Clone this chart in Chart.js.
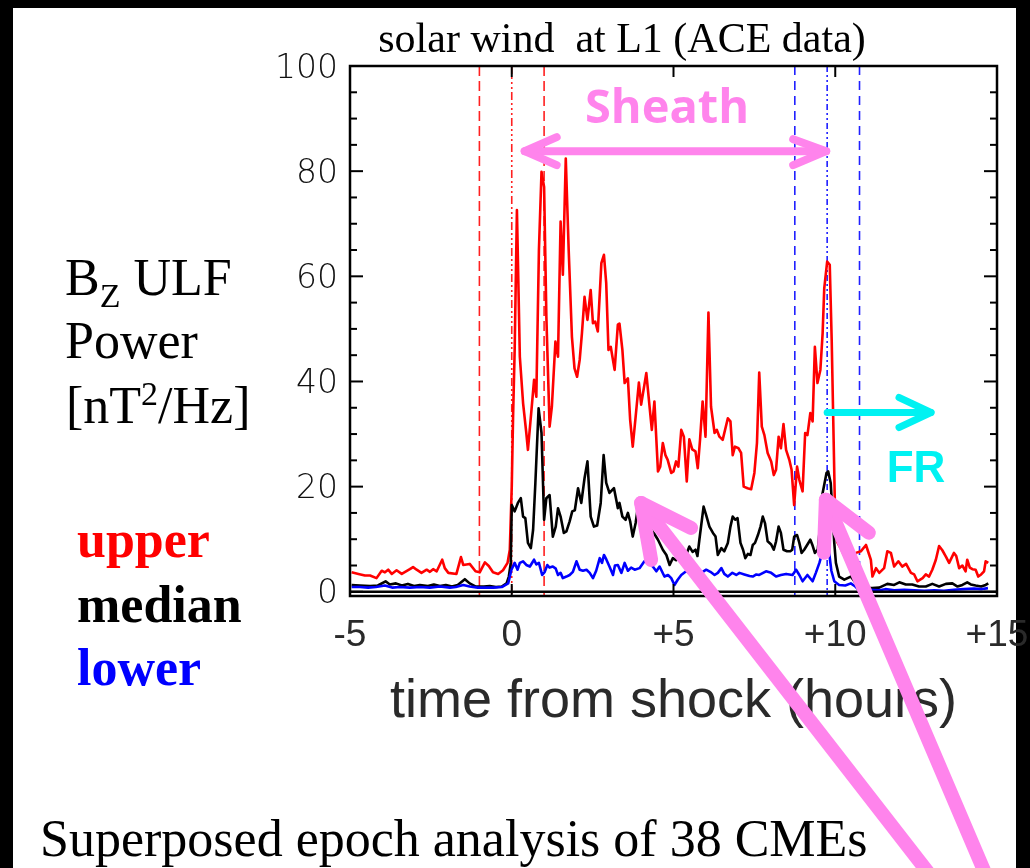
<!DOCTYPE html>
<html><head><meta charset="utf-8">
<script src="https://cdn.jsdelivr.net/npm/chart.js@4.4.1/dist/chart.umd.min.js"></script>
<style>html,body{margin:0;padding:0;background:#fff;overflow:hidden}#wrap{width:1030px;height:868px;position:relative}</style>
</head><body><div id="wrap"><canvas id="c" width="1030" height="868"></canvas></div>
<script>
// time from shock (hours) and Bz ULF power [nT^2/Hz]
const upperT = [-4.95,-4.74,-4.54,-4.38,-4.18,-4.02,-3.92,-3.82,-3.71,-3.56,
-3.40,-3.15,-3.05,-2.94,-2.79,-2.63,-2.53,-2.43,-2.32,-2.15,
-2.07,-1.96,-1.71,-1.57,-1.50,-1.30,-1.12,-0.99,-0.83,-0.71,
-0.58,-0.42,-0.27,-0.13,-0.06,0.00,0.04,0.09,0.16,0.25,
0.35,0.45,0.50,0.61,0.69,0.76,0.84,0.92,1.00,1.07,
1.17,1.24,1.35,1.43,1.51,1.58,1.67,1.76,1.86,1.94,
2.02,2.10,2.17,2.25,2.34,2.44,2.51,2.58,2.66,2.77,
2.85,2.92,2.99,3.06,3.18,3.28,3.33,3.42,3.49,3.59,
3.66,3.74,3.83,3.93,4.00,4.16,4.26,4.33,4.41,4.52,
4.59,4.67,4.75,4.82,4.93,5.00,5.08,5.15,5.24,5.32,
5.41,5.49,5.58,5.68,5.75,5.82,5.90,5.99,6.08,6.16,
6.27,6.34,6.42,6.52,6.68,6.76,6.83,6.90,7.01,7.09,
7.17,7.29,7.40,7.50,7.58,7.65,7.73,7.81,7.91,8.02,
8.10,8.17,8.25,8.32,8.40,8.48,8.58,8.65,8.73,8.82,
8.89,8.99,9.07,9.14,9.23,9.30,9.37,9.45,9.54,9.61,
9.66,9.75,9.83,9.89,9.95,10.00,10.06,10.19,10.31,10.43,
10.64,10.79,10.95,11.10,11.15,11.26,11.36,11.51,11.61,11.72,
11.82,11.95,12.07,12.19,12.34,12.44,12.54,12.70,12.80,12.90,
13.00,13.11,13.21,13.31,13.42,13.52,13.67,13.74,13.83,13.93,
14.03,14.08,14.16,14.24,14.34,14.42,14.51,14.60,14.65,14.73];
const upperV = [3.7,3.4,3.1,3.1,2.6,4.0,3.7,4.2,3.4,4.1,
3.4,4.3,4.7,4.2,3.6,4.2,3.8,4.3,3.9,6.1,
4.5,3.6,3.4,6.6,5.1,5.3,3.9,3.7,5.6,4.9,
3.7,3.4,4.1,5.5,8.0,20.0,33.0,46.0,72.6,44.7,
35.9,30.2,27.0,34.6,40.3,37.1,65.0,79.9,77.0,52.3,
31.4,35.2,47.6,44.7,70.4,60.3,82.4,65.0,48.5,42.5,
40.9,44.1,49.2,56.1,51.7,57.4,51.1,51.4,49.5,62.5,
64.1,58.7,46.0,46.6,42.2,50.8,51.0,46.0,39.7,40.6,
32.7,27.6,33.3,39.8,35.6,41.6,35.2,30.8,36.2,22.9,
23.8,28.3,26.0,25.1,22.6,22.9,24.8,23.8,30.8,29.5,
21.0,29.0,27.1,26.7,23.5,28.9,36.2,29.5,53.1,35.2,
30.2,30.8,29.5,28.9,33.0,32.4,26.0,27.6,27.3,26.4,
20.0,19.7,19.5,22.6,28.3,41.7,31.4,29.8,26.4,24.8,
22.2,23.2,29.5,27.3,31.9,27.0,25.1,23.2,16.5,23.8,
21.3,19.1,30.2,29.8,34.0,32.4,46.6,39.7,42.2,49.2,
57.7,62.8,62.2,47.9,28.9,13.0,9.5,8.0,6.5,5.5,
7.4,7.7,8.9,6.1,2.9,4.5,3.6,4.5,7.7,7.4,
4.8,5.8,4.8,5.3,3.6,3.3,2.0,2.6,3.3,2.9,
4.2,6.1,8.7,7.9,6.7,5.5,7.4,6.8,4.5,5.0,
3.9,6.1,4.6,4.3,4.2,2.9,3.3,3.9,5.8,5.5];

const medianT = [-4.95,-4.69,-4.38,-4.14,-3.90,-3.77,-3.58,-3.40,-3.21,-3.02,
-2.84,-2.59,-2.41,-2.22,-2.04,-1.85,-1.67,-1.45,-1.30,-1.11,
-0.86,-0.68,-0.49,-0.31,-0.16,-0.09,-0.03,0.00,0.09,0.19,
0.28,0.35,0.42,0.50,0.59,0.66,0.73,0.83,0.92,1.00,
1.07,1.17,1.27,1.36,1.43,1.51,1.61,1.69,1.79,1.87,
1.95,2.05,2.15,2.25,2.34,2.44,2.54,2.64,2.75,2.84,
2.92,3.02,3.16,3.23,3.28,3.33,3.42,3.52,3.59,3.66,
3.74,3.83,3.90,4.00,4.14,4.29,4.41,4.52,4.67,4.78,
4.88,4.98,5.08,5.19,5.29,5.39,5.49,5.59,5.68,5.74,
5.80,5.93,6.01,6.11,6.22,6.30,6.37,6.48,6.57,6.68,
6.76,6.83,6.91,6.98,7.07,7.15,7.22,7.30,7.38,7.45,
7.52,7.61,7.69,7.76,7.83,7.91,8.02,8.10,8.17,8.25,
8.32,8.40,8.51,8.61,8.67,8.73,8.82,8.89,8.96,9.04,
9.14,9.23,9.30,9.37,9.46,9.54,9.61,9.73,9.78,9.86,
9.92,9.97,10.02,10.12,10.28,10.48,10.59,10.74,10.95,11.14,
11.36,11.61,11.82,11.98,12.18,12.38,12.59,12.80,13.00,13.21,
13.42,13.62,13.78,13.93,14.08,14.19,14.34,14.51,14.65,14.73];
const medianV = [1.3,1.2,1.1,1.2,2.0,1.4,1.6,1.2,1.5,1.1,
1.3,1.1,1.4,1.1,1.3,1.0,1.3,2.4,1.6,1.0,
1.0,1.1,0.9,1.0,1.6,2.9,5.5,16.5,15.3,16.9,
17.8,14.3,14.0,9.3,8.3,11.8,20.7,34.9,30.2,13.7,
17.8,18.4,10.5,12.4,15.9,14.3,11.2,11.5,13.4,15.3,
15.5,19.7,16.9,21.6,24.8,14.3,12.4,12.6,16.9,26.0,
20.7,18.8,19.7,17.5,15.9,16.9,14.3,13.7,15.0,13.4,
10.5,13.1,16.2,17.2,14.0,12.0,11.0,9.9,8.0,7.0,
5.1,6.4,6.0,6.6,7.4,7.0,8.6,7.6,8.0,6.8,
9.9,16.2,14.6,12.4,11.2,10.5,7.0,8.3,7.7,9.3,
12.4,14.3,13.7,14.0,9.3,8.0,6.4,7.2,7.0,8.9,
9.3,10.8,12.4,14.3,13.0,9.6,9.0,8.0,9.6,12.4,
11.2,8.0,7.7,7.7,8.0,10.5,10.8,9.3,7.4,8.0,
9.0,9.9,8.8,7.4,8.0,13.0,18.8,22.6,22.9,20.7,
14.3,9.3,5.5,2.9,2.3,2.9,2.0,1.0,0.7,0.7,
0.8,1.5,1.3,1.8,1.4,1.4,1.0,1.0,1.5,1.0,
1.5,1.6,1.0,1.3,1.8,1.4,1.2,1.0,1.3,1.6];

const lowerT = [-4.95,-4.69,-4.44,-4.20,-3.92,-3.70,-3.46,-3.15,-2.84,-2.53,
-2.22,-1.91,-1.73,-1.50,-1.30,-1.05,-0.80,-0.56,-0.31,-0.11,
-0.01,0.09,0.18,0.25,0.35,0.45,0.56,0.69,0.76,0.84,
0.94,1.02,1.10,1.17,1.27,1.36,1.43,1.51,1.58,1.69,
1.79,1.89,2.00,2.10,2.20,2.31,2.41,2.51,2.61,2.72,
2.79,2.85,2.92,3.02,3.13,3.19,3.28,3.39,3.49,3.59,
3.69,3.80,3.95,4.10,4.26,4.36,4.47,4.57,4.72,4.83,
4.93,5.03,5.13,5.24,5.39,5.49,5.60,5.71,5.86,6.01,
6.14,6.27,6.37,6.48,6.57,6.68,6.82,6.94,7.04,7.19,
7.35,7.45,7.56,7.65,7.86,8.02,8.17,8.32,8.48,8.68,
8.79,8.89,8.99,9.14,9.30,9.40,9.51,9.61,9.73,9.80,
9.88,9.97,10.12,10.31,10.48,10.62,10.74,11.05,11.36,11.55,
11.82,12.13,12.44,12.75,13.06,13.36,13.67,13.98,14.29,14.51,14.72];
const lowerV = [0.9,0.9,0.8,0.9,1.2,0.8,0.9,0.8,0.9,0.8,
1.0,0.8,0.9,1.3,1.0,0.8,0.8,0.8,0.9,1.6,
4.2,5.5,4.2,5.5,5.8,5.1,4.8,6.1,5.2,5.5,
3.2,3.8,5.1,4.6,4.8,4.4,3.2,3.6,2.6,2.9,
3.2,3.8,5.8,4.2,4.0,4.2,3.6,2.6,4.0,6.4,
5.5,7.0,6.2,4.8,3.2,5.0,5.1,3.6,5.5,4.0,
4.6,4.2,4.5,5.8,5.5,4.8,3.9,4.8,2.9,3.2,
2.6,1.3,2.3,3.2,3.9,3.6,4.0,3.4,3.6,4.2,
3.8,3.2,3.6,4.5,3.4,2.9,3.6,3.2,3.6,3.3,
3.0,2.9,3.3,3.2,3.9,3.6,2.9,3.2,3.4,3.2,
4.2,3.2,2.0,3.2,2.0,3.6,5.5,7.7,9.5,8.0,
4.0,2.0,1.3,1.2,1.6,1.0,0.3,0.4,0.3,0.5,
0.3,0.4,0.3,0.2,0.3,0.2,0.4,0.5,0.6,0.5,0.7];

const xTicks = [-5, 0, 5, 10, 15];
const yTicks = [0, 20, 40, 60, 80, 100];
const shockLines = [-1, 0, 1];              // red: shock time and +/- 1 h
const sheathEndLines = [8.75, 9.75, 10.75]; // blue: sheath end and +/- 1 h

const PINK = '#ff84ec';
const CYAN = '#00f2f2';

const pts = (T, V) => T.map((t, i) => ({ x: t, y: V[i] }));

function line(ctx, x1, y1, x2, y2) { ctx.beginPath(); ctx.moveTo(x1, y1); ctx.lineTo(x2, y2); ctx.stroke(); }
function arrowHead(ctx, ax1, ay1, tx, ty, ax2, ay2) {
  ctx.beginPath(); ctx.moveTo(ax1, ay1); ctx.lineTo(tx, ty); ctx.lineTo(ax2, ay2); ctx.stroke();
}

const deco = {
  id: 'deco',
  beforeDraw(chart) {
    const c = chart.ctx; c.save();
    c.fillStyle = '#fff'; c.fillRect(0, 0, 1030, 868);
    c.fillStyle = '#000';
    c.fillRect(0, 0, 1030, 8); c.fillRect(0, 0, 13, 868); c.fillRect(1016, 0, 14, 868);
    c.restore();
  },
  beforeDatasetsDraw(chart) {
    const c = chart.ctx, xs = chart.scales.x, a = chart.chartArea;
    c.save(); c.lineWidth = 1.6;
    shockLines.forEach((t, i) => {
      const x = xs.getPixelForValue(t);
      c.strokeStyle = '#ff2020';
      c.setLineDash(i === 1 ? [8, 3, 2, 3, 2, 3, 2, 3] : [10, 5]);
      line(c, x, a.top, x, a.bottom);
    });
    sheathEndLines.forEach((t, i) => {
      const x = xs.getPixelForValue(t);
      c.strokeStyle = '#2020ff';
      c.setLineDash(i === 1 ? [6, 3, 2, 3, 2, 3] : [9, 6]);
      line(c, x, a.top, x, a.bottom);
    });
    c.restore();
  },
  afterDatasetsDraw(chart) {
    const c = chart.ctx, xs = chart.scales.x, ys = chart.scales.y, a = chart.chartArea;
    c.save(); c.strokeStyle = '#000'; c.setLineDash([]);
    c.lineWidth = 2.5;
    const y0 = ys.getPixelForValue(0);
    line(c, a.left, y0, a.right, y0);
    c.strokeRect(a.left, a.top, a.right - a.left, a.bottom - a.top);
    c.lineWidth = 2;
    for (let v = 0; v <= 100; v += 5) {
      const y = ys.getPixelForValue(v);
      const len = (v % 20 === 0) ? 13 : 7;
      line(c, a.left, y, a.left + len, y);
      line(c, a.right, y, a.right - len, y);
    }
    xTicks.forEach(t => {
      const x = xs.getPixelForValue(t);
      line(c, x, a.top, x, a.top + 11);
      line(c, x, a.bottom, x, a.bottom - 12);
    });
    c.restore();
  },
  afterDraw(chart) {
    const c = chart.ctx, xs = chart.scales.x, ys = chart.scales.y;
    const X = t => xs.getPixelForValue(t), Y = v => ys.getPixelForValue(v);
    c.save();
    c.setLineDash([]);
    c.textBaseline = 'alphabetic';
    // title
    c.fillStyle = '#000';
    c.font = '42px "Liberation Serif"';
    c.textAlign = 'center';
    c.fillText('solar wind  at L1 (ACE data)', 622, 52);
    // y label
    c.textAlign = 'left';
    let x = 65;
    c.font = '52px "Liberation Serif"';
    c.fillText('B', x, 295); x += c.measureText('B').width;
    c.font = '34px "Liberation Serif"';
    c.fillText('Z', x, 307); x += c.measureText('Z').width;
    c.font = '52px "Liberation Serif"';
    c.fillText(' ULF', x, 295);
    c.fillText('Power', 65, 358);
    x = 66;
    c.fillText('[nT', x, 423); x += c.measureText('[nT').width;
    c.font = '34px "Liberation Serif"';
    c.fillText('2', x, 405); x += c.measureText('2').width;
    c.font = '52px "Liberation Serif"';
    c.fillText('/Hz]', x, 423);
    // series key
    c.font = 'bold 52px "Liberation Serif"';
    c.fillStyle = '#ff0000'; c.fillText('upper', 77, 557);
    c.fillStyle = '#000000'; c.fillText('median', 77, 622);
    c.fillStyle = '#0000ff'; c.fillText('lower', 77, 685);
    // footer
    c.fillStyle = '#000';
    c.font = '52px "Liberation Serif"';
    c.fillText('Superposed epoch analysis of 38 CMEs', 40, 856);
    // Sheath annotation
    c.strokeStyle = PINK; c.fillStyle = PINK; c.lineCap = 'round'; c.lineJoin = 'round';
    c.font = 'bold 47px "Open Sans"'; c.textAlign = 'center';
    c.fillText('Sheath', 667, 123);
    const sy = Y(83.8), sx1 = X(0.4), sx2 = X(9.72);
    c.lineWidth = 8;
    line(c, sx1, sy, sx2, sy);
    arrowHead(c, sx1 + 32, sy - 14, sx1, sy, sx1 + 32, sy + 14);
    arrowHead(c, sx2 - 33, sy - 12, sx2, sy, sx2 - 33, sy + 14);
    // FR annotation
    c.strokeStyle = CYAN; c.fillStyle = CYAN;
    c.font = 'bold 44px "Liberation Sans"';
    c.fillText('FR', 916, 482);
    const fy = Y(34.1), fx1 = X(9.75), fx2 = X(12.96);
    c.lineWidth = 7;
    line(c, fx1, fy, fx2, fy);
    arrowHead(c, fx2 - 32, fy - 15, fx2, fy, fx2 - 32, fy + 15);
    // pointer arrows to the median peaks
    c.strokeStyle = PINK; c.lineWidth = 14;
    let tx = X(4.0), ty = Y(16.9);
    line(c, tx, ty, 934, 880);
    arrowHead(c, tx + 50, ty + 25, tx, ty, tx + 10, ty + 57);
    tx = X(9.71); ty = Y(17.5);
    line(c, tx, ty, 988, 880);
    arrowHead(c, tx + 43, ty + 33, tx, ty, tx - 2, ty + 53);
    c.restore();
  }
};

new Chart(document.getElementById('c'), {
  type: 'line',
  data: {
    datasets: [
      { label: 'lower', data: pts(lowerT, lowerV), borderColor: '#0000ff', borderWidth: 2.6, order: 1 },
      { label: 'median', data: pts(medianT, medianV), borderColor: '#000000', borderWidth: 2.6, order: 2 },
      { label: 'upper', data: pts(upperT, upperV), borderColor: '#ff0000', borderWidth: 2.6, order: 3 }
    ]
  },
  options: {
    responsive: false,
    animation: false,
    devicePixelRatio: 1,
    elements: { point: { radius: 0 }, line: { tension: 0, borderJoinStyle: 'round' } },
    layout: { padding: { left: 0, right: 33, top: 66, bottom: 139 } },
    plugins: { legend: { display: false }, title: { display: false }, tooltip: { enabled: false } },
    scales: {
      x: {
        type: 'linear', min: -5, max: 15,
        afterBuildTicks: s => { s.ticks = xTicks.map(v => ({ value: v })); },
        afterFit: s => { s.height = 133; s.paddingLeft = 0; s.paddingRight = 0; },
        grid: { display: false, drawTicks: false },
        border: { display: false },
        ticks: {
          padding: 18, color: '#2a2a2a', maxRotation: 0, autoSkip: false,
          font: { family: '"Liberation Sans"', size: 37 },
          callback: v => (v > 0 ? '+' + v : String(v))
        },
        title: {
          display: true, text: 'time from shock (hours)', color: '#2a2a2a',
          font: { family: '"Liberation Sans"', size: 54, lineHeight: 1 }, padding: 0
        }
      },
      y: {
        type: 'linear', min: -0.8, max: 100,
        afterBuildTicks: s => { s.ticks = yTicks.map(v => ({ value: v })); },
        afterFit: s => { s.width = 350; s.paddingTop = 0; s.paddingBottom = 0; },
        grid: { display: false, drawTicks: false },
        border: { display: false },
        ticks: {
          padding: 12, color: '#111', labelOffset: 3,
          font: { family: '"DejaVu Sans"', size: 33, weight: '200' }
        }
      }
    }
  },
  plugins: [deco]
});
</script>
</body></html>
